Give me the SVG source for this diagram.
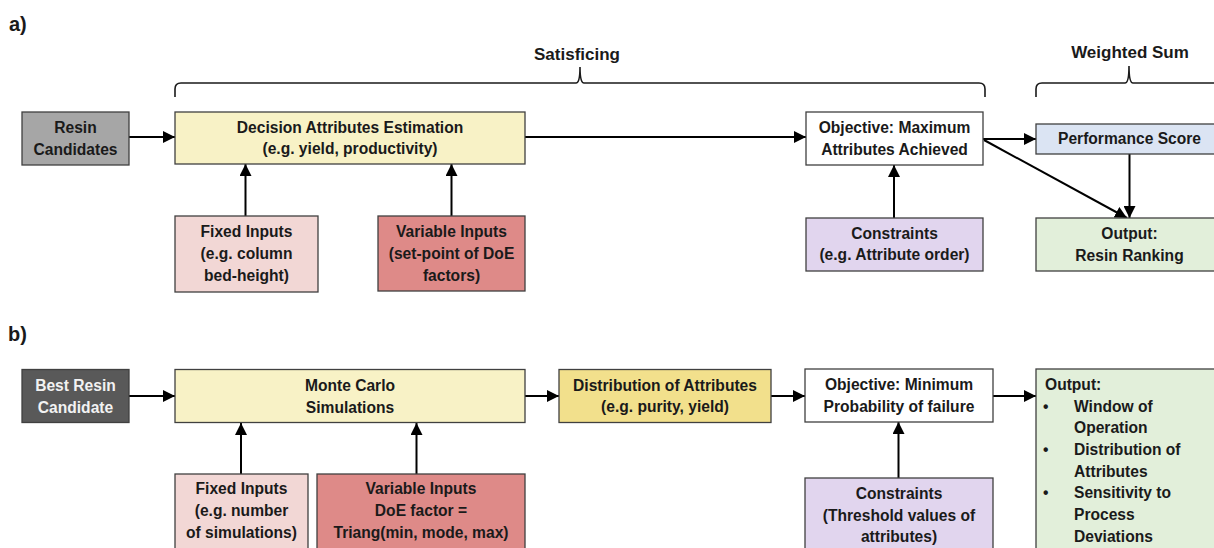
<svg xmlns="http://www.w3.org/2000/svg" width="1214" height="548" viewBox="0 0 1214 548">
<style>
text{font-family:"Liberation Sans",Arial,sans-serif;font-weight:bold;font-size:15.6px;fill:#1a1a1a}
.c{text-anchor:middle}
.h{font-size:17px}
.lbl{font-size:20px}
.box{stroke:#404040;stroke-width:1.3}
.w{fill:#f2f2f2}
.ln{stroke:#000;stroke-width:2;fill:none}
.br{stroke:#1a1a1a;stroke-width:1.6;fill:none}
</style>
<defs>
<marker id="ah" markerUnits="userSpaceOnUse" markerWidth="12" markerHeight="12" refX="12" refY="6" orient="auto">
<path d="M0,0 L12,6 L0,12 z" fill="#000"/>
</marker>
</defs>
<rect width="1214" height="548" fill="#fff"/>

<g id="labels">
<text class="lbl" x="9" y="31">a)</text>
<text class="lbl" x="8" y="341">b)</text>
<text class="h c" x="577" y="60">Satisficing</text>
<text class="h c" x="1130" y="58">Weighted Sum</text>
</g>

<g id="braces">
<path class="br" d="M175,97 L175,89 Q175,83 181,83 L576,83 Q580,83 580,67 Q580,83 584,83 L979,83 Q985,83 985,89 L985,97"/>
<path class="br" d="M1036,97 L1036,89 Q1036,83 1042,83 L1125,83 Q1129,83 1129,66 Q1129,83 1133,83 L1220,83"/>
</g>

<g id="connectors">
<line class="ln" x1="129" y1="137" x2="175" y2="137" marker-end="url(#ah)"/>
<line class="ln" x1="525" y1="137" x2="806" y2="137" marker-end="url(#ah)"/>
<line class="ln" x1="245.5" y1="216" x2="245.5" y2="164" marker-end="url(#ah)"/>
<line class="ln" x1="451.5" y1="216" x2="451.5" y2="164" marker-end="url(#ah)"/>
<line class="ln" x1="894" y1="218" x2="894" y2="165" marker-end="url(#ah)"/>
<line class="ln" x1="983" y1="139" x2="1036" y2="139" marker-end="url(#ah)"/>
<line class="ln" x1="1129.5" y1="154" x2="1129.5" y2="218" marker-end="url(#ah)"/>
<line class="ln" x1="984" y1="140" x2="1127" y2="218" marker-end="url(#ah)"/>

<line class="ln" x1="129" y1="396" x2="175" y2="396" marker-end="url(#ah)"/>
<line class="ln" x1="525" y1="396" x2="559" y2="396" marker-end="url(#ah)"/>
<line class="ln" x1="771" y1="396" x2="805" y2="396" marker-end="url(#ah)"/>
<line class="ln" x1="993" y1="396" x2="1036" y2="396" marker-end="url(#ah)"/>
<line class="ln" x1="241" y1="474" x2="241" y2="423" marker-end="url(#ah)"/>
<line class="ln" x1="416.5" y1="474" x2="416.5" y2="423" marker-end="url(#ah)"/>
<line class="ln" x1="898.5" y1="478" x2="898.5" y2="422" marker-end="url(#ah)"/>
</g>

<g id="resin-candidates">
<rect class="box" x="22" y="112" width="107" height="53" fill="#a6a6a6"/>
<text class="c" x="75.5" y="132.5">Resin</text>
<text class="c" x="75.5" y="154.5">Candidates</text>
</g>

<g id="decision-attributes">
<rect class="box" x="175" y="112" width="350" height="52" fill="#f8f2c6"/>
<text class="c" x="350" y="132.5">Decision Attributes Estimation</text>
<text class="c" x="350" y="154">(e.g. yield, productivity)</text>
</g>

<g id="fixed-inputs-a">
<rect class="box" x="175" y="216" width="143" height="76" fill="#f2d7d5"/>
<text class="c" x="246.5" y="237">Fixed Inputs</text>
<text class="c" x="246.5" y="259">(e.g. column</text>
<text class="c" x="246.5" y="281">bed-height)</text>
</g>

<g id="variable-inputs-a">
<rect class="box" x="378" y="216" width="147" height="75" fill="#de8a88"/>
<text class="c" x="451.5" y="237">Variable Inputs</text>
<text class="c" x="451.5" y="259">(set-point of DoE</text>
<text class="c" x="451.5" y="281">factors)</text>
</g>

<g id="objective-max">
<rect class="box" x="806" y="112" width="177" height="53" fill="#fff"/>
<text class="c" x="894.5" y="133">Objective: Maximum</text>
<text class="c" x="894.5" y="155">Attributes Achieved</text>
</g>

<g id="constraints-a">
<rect class="box" x="806" y="218" width="177" height="53" fill="#e1d5ee"/>
<text class="c" x="894.5" y="238.5">Constraints</text>
<text class="c" x="894.5" y="260">(e.g. Attribute order)</text>
</g>

<g id="performance-score">
<rect class="box" x="1036" y="124" width="190" height="30" fill="#dbe4f3"/>
<text class="c" x="1129.5" y="143.5">Performance Score</text>
</g>

<g id="output-a">
<rect class="box" x="1036" y="218" width="190" height="53" fill="#e2efda"/>
<text class="c" x="1129.5" y="238.5">Output:</text>
<text class="c" x="1129.5" y="260.5">Resin Ranking</text>
</g>

<g id="best-resin">
<rect class="box" x="22" y="369.5" width="107" height="53" fill="#595959"/>
<text class="c w" x="75.5" y="390.5">Best Resin</text>
<text class="c w" x="75.5" y="412.5">Candidate</text>
</g>

<g id="monte-carlo">
<rect class="box" x="175" y="369.5" width="350" height="53" fill="#f8f2c6"/>
<text class="c" x="350" y="390.5">Monte Carlo</text>
<text class="c" x="350" y="412.5">Simulations</text>
</g>

<g id="distribution">
<rect class="box" x="559" y="369.5" width="212" height="53" fill="#f2e08c"/>
<text class="c" x="665" y="390.5">Distribution of Attributes</text>
<text class="c" x="665" y="412">(e.g. purity, yield)</text>
</g>

<g id="objective-min">
<rect class="box" x="805" y="369" width="188" height="53" fill="#fff"/>
<text class="c" x="899" y="390">Objective: Minimum</text>
<text class="c" x="899" y="411.7">Probability of failure</text>
</g>

<g id="output-b">
<rect class="box" x="1036" y="369" width="190" height="190" fill="#e2efda"/>
<text x="1045" y="390">Output:</text>
<text x="1043" y="411.7">•</text>
<text x="1074" y="411.7">Window of</text>
<text x="1074" y="433.3">Operation</text>
<text x="1043" y="455">•</text>
<text x="1074" y="455">Distribution of</text>
<text x="1074" y="476.7">Attributes</text>
<text x="1043" y="498.3">•</text>
<text x="1074" y="498.3">Sensitivity to</text>
<text x="1074" y="520">Process</text>
<text x="1074" y="541.7">Deviations</text>
</g>

<g id="fixed-inputs-b">
<rect class="box" x="175" y="474" width="133" height="90" fill="#f2d7d5"/>
<text class="c" x="241.5" y="494.3">Fixed Inputs</text>
<text class="c" x="241.5" y="516">(e.g. number</text>
<text class="c" x="241.5" y="537.7">of simulations)</text>
</g>

<g id="variable-inputs-b">
<rect class="box" x="317" y="474" width="208" height="90" fill="#de8a88"/>
<text class="c" x="421" y="494.3">Variable Inputs</text>
<text class="c" x="421" y="516">DoE factor =</text>
<text class="c" x="421" y="537.7">Triang(min, mode, max)</text>
</g>

<g id="constraints-b">
<rect class="box" x="805" y="478" width="188" height="90" fill="#e1d5ee"/>
<text class="c" x="899" y="499">Constraints</text>
<text class="c" x="899" y="520.7">(Threshold values of</text>
<text class="c" x="899" y="542">attributes)</text>
</g>
</svg>
